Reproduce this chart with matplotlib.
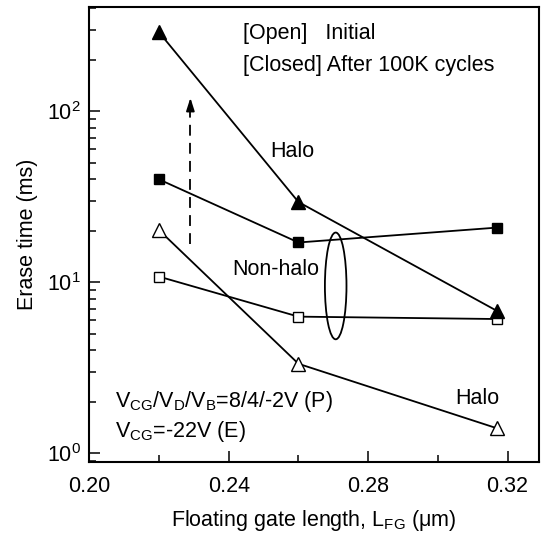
import numpy as np
import matplotlib
matplotlib.use("Agg")
import matplotlib.pyplot as plt
from matplotlib.patches import Ellipse
from matplotlib.ticker import FixedLocator, LogLocator, NullFormatter, FormatStrFormatter

plt.rcParams["font.family"] = ["Liberation Sans", "DejaVu Sans"]
plt.rcParams["mathtext.fontset"] = "custom"
plt.rcParams["mathtext.rm"] = "Liberation Sans"
plt.rcParams["mathtext.it"] = "Liberation Sans:italic"
plt.rcParams["font.size"] = 15.5

# gate length (um)
L_fg = [0.22, 0.26, 0.317]
# erase time (ms)
halo_closed = [290, 29.5, 6.8]
nonhalo_closed = [40, 17.1, 20.9]
halo_open = [20.2, 3.34, 1.40]
nonhalo_open = [10.8, 6.3, 6.1]

arrow_x = 0.229
arrow_y = [16.8, 120]

fig = plt.figure(figsize=(5.46, 5.35), dpi=100)
ax = fig.add_axes([0.1636, 0.137, 0.8234, 0.849])

lw = 1.3
ax.plot(L_fg, nonhalo_open, "-s", color="black", lw=lw, ms=7.5, mfc="white", mec="black", mew=1.0)
ax.plot(L_fg, halo_open, "-^", color="black", lw=lw, ms=9.5, mfc="white", mec="black", mew=1.0)
ax.plot(L_fg, nonhalo_closed, "-s", color="black", lw=lw, ms=7.5, mfc="black", mec="black")
ax.plot(L_fg, halo_closed, "-^", color="black", lw=lw, ms=9.5, mfc="black", mec="black")

# dashed arrow
ax.plot([arrow_x, arrow_x], [arrow_y[0], arrow_y[1] * 0.9], color="black", lw=lw, dashes=(6, 4))
ax.annotate("", xy=(arrow_x, arrow_y[1]), xytext=(arrow_x, arrow_y[1] * 0.87),
            arrowprops=dict(arrowstyle="-|>,head_length=0.5,head_width=0.16",
                            color="black", lw=lw, shrinkA=0, shrinkB=0))

ax.add_patch(Ellipse((0.548, 0.387), 0.048, 0.235, transform=ax.transAxes,
                     fill=False, edgecolor="black", lw=lw))

ax.set_yscale("log")
ax.set_xlim(0.20, 0.329)
ax.set_ylim(0.893, 405)

ax.xaxis.set_major_locator(FixedLocator([0.20, 0.24, 0.28, 0.32]))
ax.xaxis.set_minor_locator(FixedLocator([0.22, 0.26, 0.30]))
ax.xaxis.set_major_formatter(FormatStrFormatter("%.2f"))
ax.yaxis.set_major_locator(LogLocator(base=10, numticks=10))
ax.yaxis.set_minor_locator(LogLocator(base=10, subs=np.arange(2, 10), numticks=20))
ax.yaxis.set_minor_formatter(NullFormatter())

ax.tick_params(which="both", direction="in", top=False, right=False, width=1.1)
ax.tick_params(which="major", length=8.2)
ax.tick_params(which="minor", length=5)
ax.tick_params(axis="x", which="major", pad=10)
ax.tick_params(axis="y", which="major", pad=6)
for s in ax.spines.values():
    s.set_linewidth(1.5)

ax.set_xlabel("Floating gate length, L$_{\\rm FG}$ (\u03bcm)")
ax.set_ylabel("Erase time (ms)")
ax.xaxis.set_label_coords(0.5, -0.103)
ax.yaxis.set_label_coords(-0.115, 0.5)

ax.text(0.341, 0.9316, "[Open]   Initial", transform=ax.transAxes, va="baseline")
ax.text(0.341, 0.8605, "[Closed] After 100K cycles", transform=ax.transAxes, va="baseline")
ax.text(0.403, 0.671, "Halo", transform=ax.transAxes, va="baseline")
ax.text(0.319, 0.411, "Non-halo", transform=ax.transAxes, va="baseline")
ax.text(0.813, 0.126, "Halo", transform=ax.transAxes, va="baseline")
ax.text(0.057, 0.121, "V$_{\\rm CG}$/V$_{\\rm D}$/V$_{\\rm B}$=8/4/-2V (P)", transform=ax.transAxes, va="baseline")
ax.text(0.057, 0.055, "V$_{\\rm CG}$=-22V (E)", transform=ax.transAxes, va="baseline")

fig.savefig("out.png", dpi=100)
